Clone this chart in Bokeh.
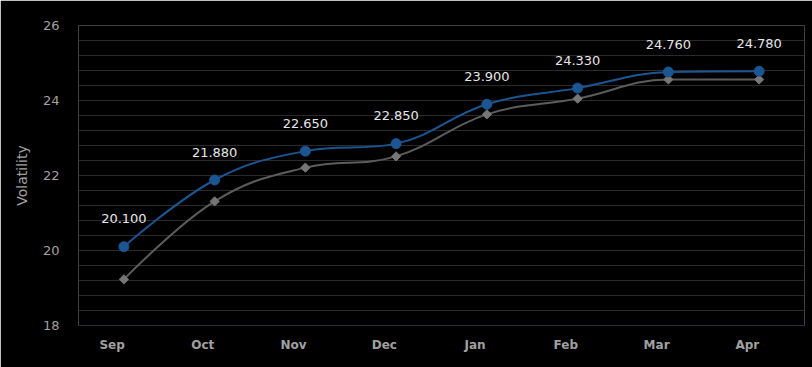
import math
from bokeh.plotting import figure
from bokeh.models import ColumnDataSource, FixedTicker, Range1d, LabelSet, CustomJSTickFormatter, Grid
from bokeh.core.properties import value
from bokeh.embed import file_html
from bokeh.resources import INLINE

months = ["Sep", "Oct", "Nov", "Dec", "Jan", "Feb", "Mar", "Apr"]
series_main = [20.10, 21.88, 22.65, 22.85, 23.90, 24.33, 24.76, 24.78]
series_ref = [19.23, 21.31, 22.21, 22.51, 23.63, 24.05, 24.56, 24.56]
y_ticks = [18, 20, 22, 24, 26]
y_title = "Volatility"

BG = "#000000"
BLUE = "#1b5592"
GRAY_LINE = "#5c5c5c"
GRAY_MARK = "#767676"
LABEL_SHIFT = 0.13  # x-axis labels sit slightly left of the category points


def spline_segments(xs, ys, smoothing=1.5):
    n = len(xs)
    denom = smoothing + 1
    right_c = [(xs[i], ys[i]) for i in range(n)]
    left_c = [(xs[i], ys[i]) for i in range(n)]
    for i in range(1, n - 1):
        px, py = xs[i], ys[i]
        lx, ly = xs[i - 1], ys[i - 1]
        nx, ny = xs[i + 1], ys[i + 1]
        lcx = (smoothing * px + lx) / denom
        lcy = (smoothing * py + ly) / denom
        rcx = (smoothing * px + nx) / denom
        rcy = (smoothing * py + ny) / denom
        corr = 0.0
        if rcx != lcx:
            corr = ((rcy - lcy) * (rcx - px)) / (rcx - lcx) + py - rcy
        lcy += corr
        rcy += corr
        if lcy > ly and lcy > py:
            lcy = max(ly, py)
            rcy = 2 * py - lcy
        elif lcy < ly and lcy < py:
            lcy = min(ly, py)
            rcy = 2 * py - lcy
        if rcy > ny and rcy > py:
            rcy = max(ny, py)
            lcy = 2 * py - rcy
        elif rcy < ny and rcy < py:
            rcy = min(ny, py)
            lcy = 2 * py - rcy
        left_c[i] = (lcx, lcy)
        right_c[i] = (rcx, rcy)
    d = dict(x0=[], y0=[], x1=[], y1=[], cx0=[], cy0=[], cx1=[], cy1=[])
    for i in range(1, n):
        d["x0"].append(xs[i - 1]); d["y0"].append(ys[i - 1])
        d["x1"].append(xs[i]); d["y1"].append(ys[i])
        d["cx0"].append(right_c[i - 1][0]); d["cy0"].append(right_c[i - 1][1])
        d["cx1"].append(left_c[i][0]); d["cy1"].append(left_c[i][1])
    return d


xs = list(range(len(months)))

p = figure(width=812, height=367, output_backend="svg", toolbar_location=None,
           x_range=Range1d(-0.5, 7.5), y_range=Range1d(18, 26),
           background_fill_color=BG, border_fill_color=BG,
           min_border_left=78, min_border_right=8, min_border_top=25, min_border_bottom=42)
p.outline_line_color = None

# grid
p.xgrid.grid_line_color = None
p.ygrid.ticker = FixedTicker(ticks=[18 + 0.4 * i for i in range(21)])
p.ygrid.grid_line_color = "#2a2a2a"
p.ygrid.grid_line_width = 1
top_grid = Grid(dimension=1, ticker=FixedTicker(ticks=[y_ticks[-1]]),
                grid_line_color="#333333", grid_line_width=2)
p.add_layout(top_grid)

# y axis
p.yaxis.ticker = FixedTicker(ticks=y_ticks)
p.yaxis.axis_line_color = None
p.yaxis.major_tick_line_color = None
p.yaxis.minor_tick_line_color = None
p.yaxis.major_label_standoff = 13
p.yaxis.major_label_text_color = "#a0a0a0"
p.yaxis.major_label_text_font = "DejaVu Sans"
p.yaxis.major_label_text_font_size = "13px"
p.yaxis.axis_label = y_title
p.yaxis.axis_label_text_color = "#a0a0a0"
p.yaxis.axis_label_text_font = "DejaVu Sans"
p.yaxis.axis_label_text_font_size = "14px"
p.yaxis.axis_label_text_font_style = "normal"
p.yaxis.axis_label_standoff = 10

# x axis
p.xaxis.ticker = FixedTicker(ticks=[i - LABEL_SHIFT for i in xs])
p.xaxis.formatter = CustomJSTickFormatter(args=dict(months=months),
                                          code="return months[Math.round(tick)];")
p.xaxis.axis_line_color = "#26303f"
p.xaxis.major_tick_line_color = None
p.xaxis.minor_tick_line_color = None
p.xaxis.major_label_standoff = 6
p.xaxis.major_label_text_color = "#a0a0a0"
p.xaxis.major_label_text_font = "DejaVu Sans"
p.xaxis.major_label_text_font_size = "12px"
p.xaxis.major_label_text_font_style = "bold"

# reference (gray) series
src_ref = ColumnDataSource(spline_segments(xs, series_ref))
p.bezier(x0="x0", y0="y0", x1="x1", y1="y1", cx0="cx0", cy0="cy0", cx1="cx1", cy1="cy1",
         source=src_ref, line_color=GRAY_LINE, line_width=2)
p.scatter(xs, series_ref, marker="square", size=6.5, angle=math.pi / 4,
          fill_color=GRAY_MARK, line_color=GRAY_MARK)

# main (blue) series
src_main = ColumnDataSource(spline_segments(xs, series_main))
p.bezier(x0="x0", y0="y0", x1="x1", y1="y1", cx0="cx0", cy0="cy0", cx1="cx1", cy1="cy1",
         source=src_main, line_color=BLUE, line_width=2)
p.scatter(xs, series_main, marker="circle", size=10, fill_color=BLUE, line_color=BLUE)

lab_src = ColumnDataSource(dict(x=xs, y=series_main, t=["%.3f" % v for v in series_main]))
labels = LabelSet(x="x", y="y", text="t", source=lab_src, y_offset=28,
                  text_align="center", text_baseline="middle",
                  text_color="#e6e6e6", text_font=value("DejaVu Sans"), text_font_size=value("13px"))
p.add_layout(labels)

html = file_html(p, INLINE)
html = html.replace("<body>", '<body style="background:#000000;">', 1)
open("out.html", "w").write(html)
